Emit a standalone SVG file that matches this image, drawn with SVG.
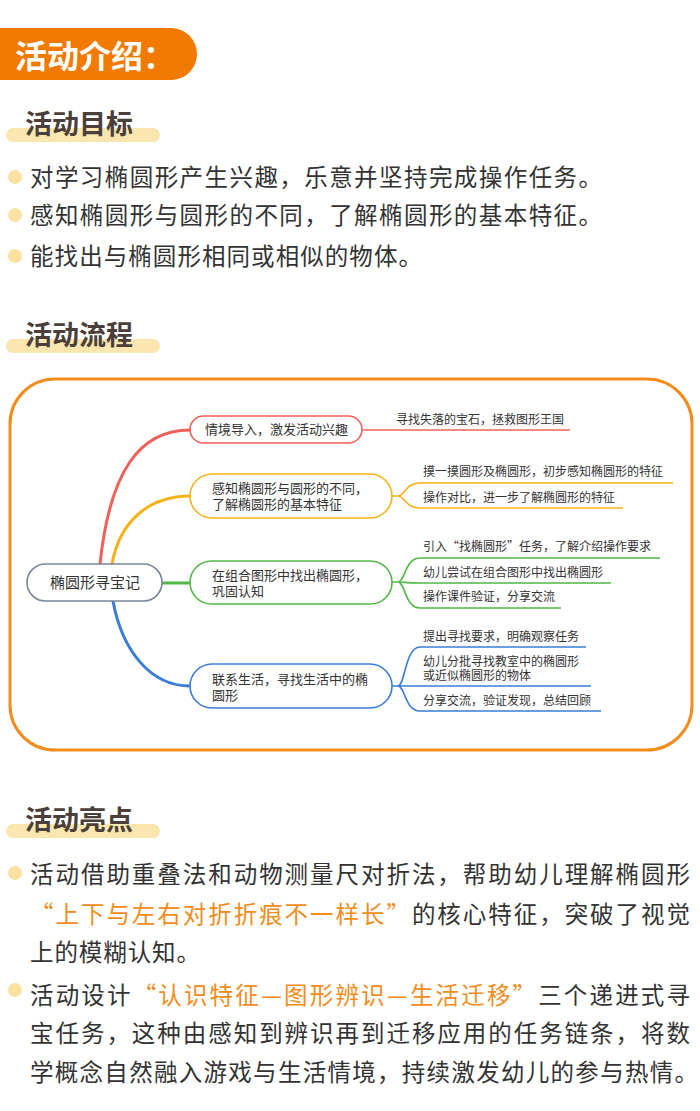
<svg xmlns="http://www.w3.org/2000/svg" width="700" height="1111" viewBox="0 0 700 1111">
<style>
text{font-family:"Noto Sans CJK SC","Noto Sans",sans-serif}
.h{font-size:27px;font-weight:bold;fill:#4a3f3a}
.bar{fill:#fbe6b0}
.dot{fill:#fbe2a0}
.b{font-size:23.5px;fill:#333}
.o{fill:#f28c1c}
.m{font-size:13px;fill:#333}
.l{font-size:12px;fill:#333}
.n{fill:#fff;stroke-width:1.6}
.c{fill:none;stroke-width:3}
.u{fill:none;stroke-width:1.6}
</style>
<rect x="0" y="0" width="700" height="1111" fill="#fff"/>
<g id="header">
<rect x="-30" y="28" width="227" height="52" rx="26" fill="#f27a00"/>
<text x="15" y="68" font-size="32" font-weight="bold" fill="#fff">活动介绍：</text>
</g>
<g id="goals">
<rect class="bar" x="6" y="128" width="154" height="14" rx="7"/>
<text class="h" x="25" y="134">活动目标</text>
<circle class="dot" cx="15" cy="177" r="7"/><text class="b" x="30" y="186" textLength="572">对学习椭圆形产生兴趣，乐意并坚持完成操作任务。</text>
<circle class="dot" cx="15" cy="215" r="7"/><text class="b" x="30" y="224" textLength="572">感知椭圆形与圆形的不同，了解椭圆形的基本特征。</text>
<circle class="dot" cx="15" cy="256" r="7"/><text class="b" x="30" y="265" textLength="392">能找出与椭圆形相同或相似的物体。</text>
</g>
<g id="flowTitle">
<rect class="bar" x="6" y="339" width="154" height="14" rx="7"/>
<text class="h" x="25" y="345">活动流程</text>
</g>
<rect id="frame" x="10" y="379" width="682" height="371" rx="45" fill="none" stroke="#f28c1c" stroke-width="3"/>
<g id="connectors">
<path class="c" stroke="#f0605a" d="M100 564 C110 470 140 430 190 430"/>
<path class="c" stroke="#f6b21a" d="M112 564 C120 520 150 496 190 496"/>
<path class="c" stroke="#52b848" d="M162 583 H190"/>
<path class="c" stroke="#3b7dd8" d="M113 601 C122 650 150 686 190 686"/>
<path class="u" stroke="#f0605a" d="M362 430 H570"/>
<path class="u" stroke="#f6b21a" d="M392 496 H398 C405 496 405 483 420 483 H673 M398 496 C405 496 405 508 420 508 H623"/>
<path class="u" stroke="#52b848" d="M392 582 H398 C405 582 405 558 420 558 H660 M398 582 C405 582 405 583 420 583 H611 M398 582 C405 582 405 608 420 608 H561"/>
<path class="u" stroke="#3b7dd8" d="M392 686 H398 C405 686 405 647 420 647 H586 M398 686 H591 M398 686 C405 686 405 711 420 711 H601"/>
</g>
<g id="root"><rect class="n" stroke="#7a8599" x="27" y="564" width="135" height="37" rx="18.5"/><text x="95" y="588" font-size="15" fill="#333" text-anchor="middle">椭圆形寻宝记</text></g>
<g id="n1"><rect class="n" stroke="#f0605a" x="190" y="416" width="172" height="27" rx="13.5"/><text class="m" x="205" y="434">情境导入，激发活动兴趣</text></g>
<g id="n2"><rect class="n" stroke="#f6b21a" x="190" y="474" width="202" height="44" rx="22"/><text class="m" x="212" y="493">感知椭圆形与圆形的不同，</text><text class="m" x="212" y="509">了解椭圆形的基本特征</text></g>
<g id="n3"><rect class="n" stroke="#52b848" x="190" y="561" width="202" height="43" rx="21.5"/><text class="m" x="212" y="580">在组合图形中找出椭圆形，</text><text class="m" x="212" y="596">巩固认知</text></g>
<g id="n4"><rect class="n" stroke="#3b7dd8" x="190" y="664" width="202" height="44" rx="22"/><text class="m" x="212" y="684">联系生活，寻找生活中的椭</text><text class="m" x="212" y="700">圆形</text></g>
<g id="leaves">
<text class="l" x="396" y="424">寻找失落的宝石，拯救图形王国</text>
<text class="l" x="423" y="476">摸一摸圆形及椭圆形，初步感知椭圆形的特征</text>
<text class="l" x="423" y="502">操作对比，进一步了解椭圆形的特征</text>
<text class="l" x="423" y="551">引入“找椭圆形”任务，了解介绍操作要求</text>
<text class="l" x="423" y="577">幼儿尝试在组合图形中找出椭圆形</text>
<text class="l" x="423" y="601">操作课件验证，分享交流</text>
<text class="l" x="423" y="641">提出寻找要求，明确观察任务</text>
<text class="l" x="423" y="666">幼儿分批寻找教室中的椭圆形</text>
<text class="l" x="423" y="680">或近似椭圆形的物体</text>
<text class="l" x="423" y="705">分享交流，验证发现，总结回顾</text>
</g>
<g id="highlights">
<rect class="bar" x="6" y="824" width="154" height="14" rx="7"/>
<text class="h" x="25" y="830">活动亮点</text>
<circle class="dot" cx="15" cy="873" r="7"/>
<text class="b" x="30" y="883" textLength="660">活动借助重叠法和动物测量尺对折法，帮助幼儿理解椭圆形</text>
<text class="b" x="30" y="923" textLength="660"><tspan class="o">“上下与左右对折折痕不一样长”</tspan>的核心特征，突破了视觉</text>
<text class="b" x="30" y="961" textLength="170">上的模糊认知。</text>
<circle class="dot" cx="15" cy="990" r="7"/>
<text class="b" x="30" y="1004" textLength="660">活动设计<tspan class="o">“认识特征—图形辨识—生活迁移”</tspan>三个递进式寻</text>
<text class="b" x="30" y="1042" textLength="660">宝任务，这种由感知到辨识再到迁移应用的任务链条，将数</text>
<text class="b" x="30" y="1081" textLength="668">学概念自然融入游戏与生活情境，持续激发幼儿的参与热情。</text>
</g>
</svg>
